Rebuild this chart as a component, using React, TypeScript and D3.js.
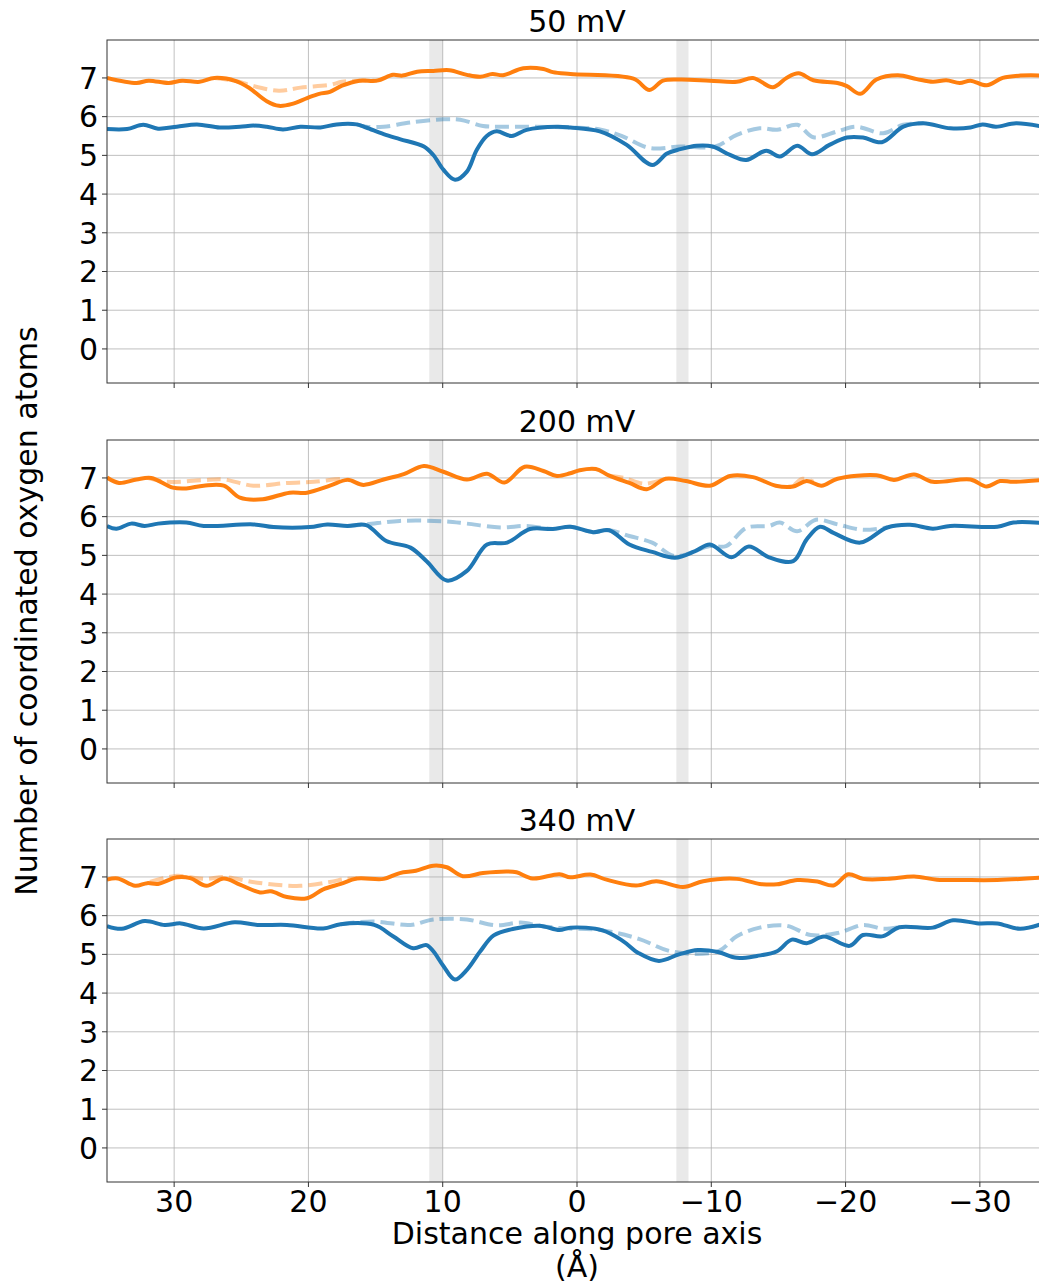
import * as d3 from 'd3'
import { useEffect } from 'react'

// [distance (Å), coordination number]
const p1OrangeSolid = [[35,7.0],[32.8,6.87],[31.9,6.93],[30.4,6.87],[29.4,6.93],[28.1,6.9],[27,7.0],[25.4,6.92],[24.4,6.74],[23.1,6.4],[22.2,6.28],[21.2,6.33],[20.1,6.48],[19.2,6.59],[18.4,6.64],[17.5,6.8],[16.2,6.93],[14.9,6.93],[13.7,7.08],[13,7.06],[11.9,7.16],[10.7,7.18],[9.5,7.2],[8.2,7.08],[7.2,7.03],[6.3,7.1],[5.5,7.07],[4.0,7.25],[2.5,7.23],[1.8,7.15],[0.5,7.1],[-4.2,6.98],[-5.4,6.69],[-6.4,6.93],[-7.7,6.96],[-9.9,6.93],[-11.9,6.9],[-13.1,7.0],[-14.6,6.76],[-15.6,7.0],[-16.5,7.12],[-17.6,6.94],[-19.4,6.87],[-20.1,6.79],[-21.1,6.59],[-22.3,6.96],[-23.9,7.07],[-25.3,6.97],[-26.5,6.9],[-27.5,6.94],[-28.5,6.87],[-29.3,6.93],[-30.5,6.81],[-31.7,7.0],[-33,7.06],[-35,7.06]]
const p1OrangeDashed = [[27,7.0],[25.4,6.92],[24.4,6.82],[22.2,6.67],[20.6,6.75],[18.4,6.82],[17.5,6.9],[16.2,6.93],[14.9,6.93]]
const p1BlueSolid = [[35,5.68],[33.5,5.68],[32.3,5.79],[31.2,5.69],[29.8,5.74],[28.3,5.8],[26.6,5.72],[25.1,5.74],[24.1,5.77],[23.1,5.74],[21.9,5.67],[20.6,5.74],[19.1,5.72],[17.9,5.8],[16.4,5.8],[15.7,5.72],[14.4,5.55],[13.2,5.42],[11.4,5.23],[10.7,5.01],[9.95,4.63],[9.08,4.37],[8.2,4.58],[7.47,5.14],[6.72,5.5],[5.98,5.62],[4.86,5.5],[3.75,5.66],[1.5,5.74],[0.5,5.72],[-1.7,5.62],[-3.7,5.27],[-5.6,4.75],[-6.7,5.05],[-7.7,5.16],[-8.9,5.25],[-10.1,5.23],[-11.4,5.01],[-12.6,4.88],[-14.1,5.12],[-15.1,4.97],[-16.4,5.25],[-17.5,5.03],[-18.8,5.27],[-20.1,5.46],[-21.3,5.46],[-22.7,5.34],[-24.3,5.74],[-25.8,5.83],[-27.8,5.7],[-29.3,5.72],[-30.2,5.8],[-31.2,5.74],[-32.7,5.83],[-35,5.72]]
const p1BlueDashed = [[16.4,5.8],[15.7,5.74],[14.4,5.74],[12.4,5.85],[9.95,5.93],[8.7,5.92],[7.0,5.76],[5.7,5.74],[3.75,5.74],[0.5,5.72],[-1.7,5.67],[-3.4,5.49],[-5.4,5.19],[-7.7,5.23],[-10.3,5.23],[-11.9,5.53],[-13.6,5.7],[-14.9,5.66],[-16.4,5.79],[-17.6,5.47],[-19.4,5.62],[-20.8,5.74],[-22.8,5.57],[-24.3,5.79],[-25.8,5.83]]

const p2OrangeSolid = [[35,7.01],[34.1,6.87],[32.8,6.96],[31.7,7.0],[30.1,6.75],[29.1,6.73],[27.8,6.8],[26.3,6.8],[25.1,6.49],[23.4,6.45],[21.4,6.62],[20.1,6.62],[18.4,6.8],[17.1,6.95],[15.9,6.82],[14.4,6.96],[12.9,7.1],[11.4,7.31],[9.95,7.16],[8.2,6.96],[6.7,7.11],[5.4,6.88],[3.9,7.29],[2.5,7.18],[1.5,7.05],[0.5,7.12],[-0.2,7.2],[-1.4,7.23],[-2.4,7.06],[-3.9,6.87],[-5.2,6.71],[-6.6,6.98],[-8.1,6.92],[-9.9,6.8],[-11.4,7.05],[-13.1,7.02],[-14.8,6.8],[-16.1,6.78],[-17.1,6.92],[-18.2,6.8],[-19.4,6.98],[-22.3,7.07],[-23.6,6.95],[-25.1,7.09],[-26.5,6.9],[-29.3,6.96],[-30.5,6.78],[-31.5,6.92],[-32.5,6.9],[-35,6.96]]
const p2OrangeDashed = [[32,7.0],[30.6,6.9],[28,6.94],[26.3,6.96],[24.1,6.8],[21.6,6.87],[19.6,6.9],[17.6,6.97],[17.1,6.95],[NaN,NaN],[-2.4,7.06],[-3.5,7.0],[-5.0,6.85],[-6.6,6.98],[NaN,NaN],[-16.1,6.78],[-16.8,6.98],[-17.6,6.9]]
const p2BlueSolid = [[35,5.76],[34.3,5.69],[33.2,5.82],[32.2,5.76],[31.2,5.82],[29.1,5.85],[27.8,5.76],[24.1,5.8],[22.6,5.73],[19.9,5.73],[18.6,5.8],[17.1,5.76],[15.7,5.78],[14.2,5.37],[12.4,5.2],[11.2,4.85],[9.7,4.35],[8.2,4.6],[6.7,5.28],[5.2,5.33],[3.5,5.68],[1.8,5.68],[0.5,5.74],[-1.2,5.6],[-2.4,5.65],[-3.9,5.28],[-5.6,5.09],[-7.3,4.94],[-8.8,5.11],[-9.9,5.28],[-11.5,4.95],[-12.8,5.23],[-14.3,4.95],[-16.1,4.85],[-17.1,5.41],[-18.1,5.74],[-19.1,5.58],[-21.1,5.33],[-23.1,5.72],[-24.8,5.79],[-26.5,5.69],[-27.8,5.76],[-31.3,5.74],[-32.5,5.85],[-35,5.83]]
const p2BlueDashed = [[17.1,5.76],[15.7,5.8],[13.2,5.89],[9.95,5.88],[8.2,5.82],[5.7,5.72],[3.75,5.76],[1.8,5.68],[0.5,5.74],[-1.2,5.6],[-2.4,5.65],[-3.9,5.5],[-5.6,5.33],[-7.3,4.98],[-9.9,5.24],[-11.1,5.24],[-12.6,5.71],[-14.3,5.76],[-15.1,5.85],[-16.4,5.62],[-17.8,5.92],[-19.4,5.8],[-21.3,5.66],[-23.1,5.72]]

const p3OrangeSolid = [[35,6.93],[34.2,6.96],[32.9,6.77],[32,6.84],[31.2,6.82],[29.8,6.99],[28.8,6.97],[27.6,6.77],[26.3,6.96],[25.1,6.8],[23.6,6.6],[22.8,6.63],[21.6,6.48],[20.1,6.45],[18.9,6.68],[17.6,6.82],[16.4,6.96],[14.4,6.95],[13.2,7.1],[12,7.16],[10.7,7.29],[9.7,7.25],[8.5,7.02],[7,7.1],[5.2,7.14],[4.5,7.12],[3.3,6.96],[1.3,7.07],[0.5,6.99],[-1.0,7.06],[-2.2,6.93],[-4.4,6.78],[-5.9,6.89],[-7.9,6.74],[-9.4,6.89],[-11.9,6.95],[-13.6,6.82],[-14.9,6.81],[-16.4,6.92],[-17.9,6.88],[-19.1,6.78],[-20.2,7.07],[-21.3,6.95],[-23.1,6.95],[-25.1,7.01],[-26.8,6.93],[-28.8,6.92],[-31.3,6.92],[-35,6.99]]
const p3OrangeDashed = [[31.8,6.87],[29.8,7.03],[28.8,6.99],[27.6,6.95],[26.3,7.0],[23.8,6.85],[20.6,6.77],[18.4,6.87],[17.2,6.95],[16.4,6.96]]
const p3BlueSolid = [[35,5.73],[33.9,5.66],[32.2,5.86],[30.7,5.76],[29.5,5.8],[27.8,5.67],[25.5,5.83],[23.8,5.76],[21.6,5.76],[18.9,5.67],[17.6,5.78],[15.1,5.76],[13.7,5.47],[12.2,5.16],[11.2,5.24],[10.7,5.08],[9.95,4.7],[9.1,4.35],[8.2,4.6],[7.2,5.08],[6.2,5.49],[4.7,5.66],[2.8,5.74],[1.3,5.63],[0.5,5.69],[-1.9,5.62],[-3.4,5.35],[-4.6,5.03],[-6.1,4.83],[-7.6,5.0],[-9.0,5.11],[-10.5,5.06],[-11.9,4.91],[-13.4,4.96],[-14.9,5.08],[-16.0,5.38],[-17.1,5.29],[-18.4,5.46],[-20.3,5.22],[-21.3,5.5],[-22.8,5.47],[-24.0,5.7],[-26.5,5.69],[-28.0,5.88],[-29.9,5.8],[-31.3,5.8],[-33,5.66],[-35,5.83]]
const p3BlueDashed = [[17.6,5.78],[15.2,5.85],[12.4,5.76],[10.7,5.9],[8.2,5.9],[6,5.75],[4.2,5.82],[2.8,5.74],[1.3,5.68],[-1.9,5.62],[-4.6,5.4],[-7.1,5.07],[-10.5,5.08],[-11.9,5.47],[-13.6,5.69],[-15.6,5.74],[-17.4,5.5],[-19.4,5.55],[-21.3,5.76],[-22.8,5.66],[-24,5.7]]

const titles = ['50 mV', '200 mV', '340 mV']
const panels = [
  [p1OrangeSolid, p1OrangeDashed, p1BlueSolid, p1BlueDashed],
  [p2OrangeSolid, p2OrangeDashed, p2BlueSolid, p2BlueDashed],
  [p3OrangeSolid, p3OrangeDashed, p3BlueSolid, p3BlueDashed],
]
const xTicks = [30, 20, 10, 0, -10, -20, -30]
const yTicks = [0, 1, 2, 3, 4, 5, 6, 7]
const bands = [[11, 10], [-7.4, -8.3]]

const W = 1039
const H = 1287
const left = 107
const right = 1047 // axes run a bit past the right edge of the figure
const tops = [40, 440, 839]
const ph = 343
const font = 'DejaVu Sans, sans-serif'
const fs = 30

const x = d3.scaleLinear().domain([35, -35]).range([left, right])
const fmt = (v) => (v < 0 ? '\u2212' + Math.abs(v) : String(v))

const Panel = ({ idx }) => {
  const top = tops[idx]
  const y = d3.scaleLinear().domain([-0.88, 7.98]).range([top + ph, top])
  const line = d3
    .line()
    .defined((d) => !isNaN(d[0]))
    .x((d) => x(d[0]))
    .y((d) => y(d[1]))
    .curve(d3.curveCatmullRom.alpha(0.5))
  const [os, od, bs, bd] = panels[idx]
  const bottom = top + ph
  return (
    <g>
      <text x={577} y={top - 8} textAnchor='middle' fontSize={fs} fontFamily={font}>
        {titles[idx]}
      </text>
      <clipPath id={'clip' + idx}>
        <rect x={left} y={top} width={right - left} height={ph} />
      </clipPath>
      {bands.map((b, i) => (
        <rect key={i} x={x(b[0])} y={top} width={x(b[1]) - x(b[0])} height={ph} fill='#d3d3d3' opacity={0.5} />
      ))}
      {xTicks.map((t) => (
        <line key={'gx' + t} x1={x(t)} x2={x(t)} y1={top} y2={bottom} stroke='#b0b0b0' strokeWidth={0.8} />
      ))}
      {yTicks.map((t) => (
        <line key={'gy' + t} x1={left} x2={right} y1={y(t)} y2={y(t)} stroke='#b0b0b0' strokeWidth={0.8} />
      ))}
      <g clipPath={`url(#clip${idx})`} fill='none' strokeWidth={4}>
        <path d={line(od)} stroke='#ff7f0e' strokeOpacity={0.4} strokeDasharray='14,6' />
        <path d={line(bd)} stroke='#1f77b4' strokeOpacity={0.4} strokeDasharray='14,6' />
        <path d={line(os)} stroke='#ff7f0e' />
        <path d={line(bs)} stroke='#1f77b4' />
      </g>
      <rect x={left} y={top} width={right - left} height={ph} fill='none' stroke='#333' strokeWidth={1} />
      {yTicks.map((t) => (
        <g key={'ty' + t}>
          <line x1={left - 5} x2={left} y1={y(t)} y2={y(t)} stroke='#333' />
          <text x={left - 9} y={y(t)} dy='0.36em' textAnchor='end' fontSize={fs} fontFamily={font}>
            {t}
          </text>
        </g>
      ))}
      {xTicks.map((t) => (
        <g key={'tx' + t}>
          <line x1={x(t)} x2={x(t)} y1={bottom} y2={bottom + 5} stroke='#333' />
          {idx === 2 && (
            <text x={x(t)} y={bottom + 30} textAnchor='middle' fontSize={fs} fontFamily={font}>
              {fmt(t)}
            </text>
          )}
        </g>
      ))}
    </g>
  )
}

export default function App() {
  useEffect(() => {
    document.body.style.margin = '0'
  }, [])
  return (
    <svg width={W} height={H} style={{ display: 'block', background: '#fff' }}>
      {[0, 1, 2].map((i) => (
        <Panel key={i} idx={i} />
      ))}
      <text x={577} y={1244} textAnchor='middle' fontSize={fs} fontFamily={font}>
        Distance along pore axis
      </text>
      <text x={577} y={1277} textAnchor='middle' fontSize={fs} fontFamily={font}>
        (Å)
      </text>
      <text transform={`translate(37, 611) rotate(-90)`} textAnchor='middle' fontSize={fs} fontFamily={font}>
        Number of coordinated oxygen atoms
      </text>
    </svg>
  )
}
